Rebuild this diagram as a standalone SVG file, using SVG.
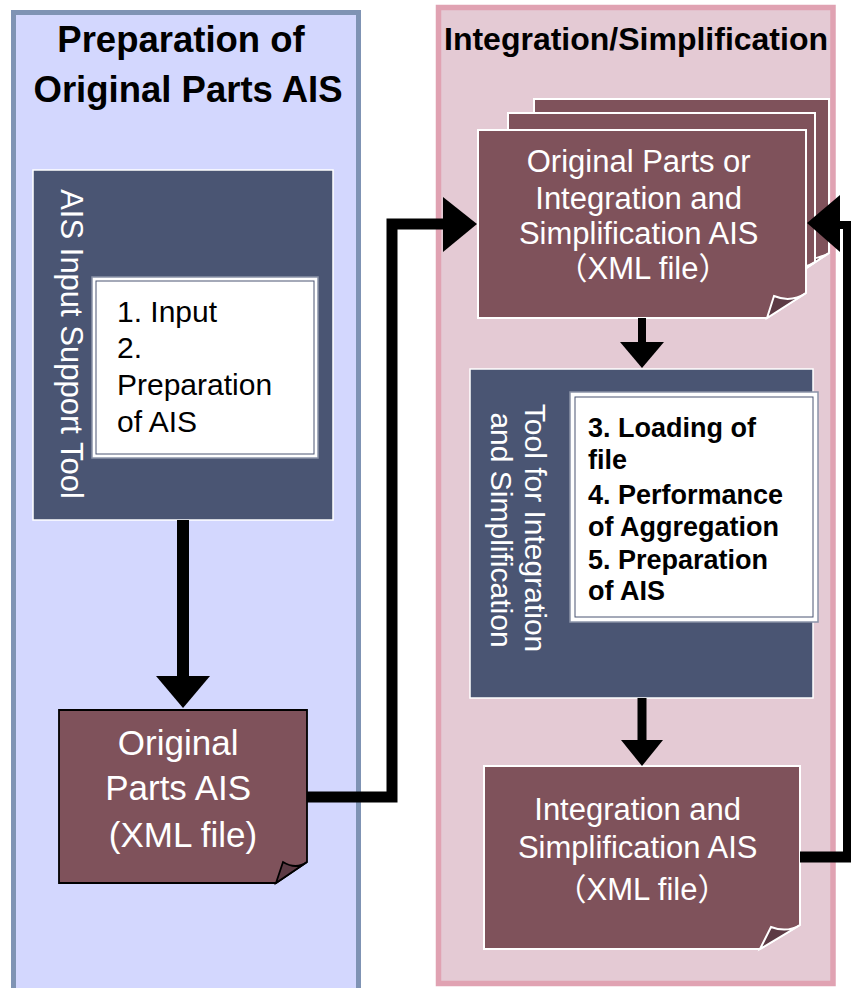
<svg xmlns="http://www.w3.org/2000/svg" width="852" height="988" viewBox="0 0 852 988">
<style>
.sans{font-family:"Liberation Sans",Arial,"Noto Sans CJK JP",sans-serif}
.head{font-weight:bold;fill:#000;text-anchor:middle}
.tool{fill:#4a5573;stroke:#ffffff;stroke-width:1.5}
.doc{fill:#7f525b;stroke:#ffffff;stroke-width:2}
.docb{fill:#7f525b;stroke:#000000;stroke-width:1.8}
.flap{fill:#5c3a44;stroke:#ffffff;stroke-width:2}
.flapb{fill:#5c3a44;stroke:#000000;stroke-width:1.8}
.wtxt{fill:#ffffff;text-anchor:middle}
.box{fill:#ffffff;stroke:#8a93a8;stroke-width:1.5}
.boxin{fill:none;stroke:#4a5573;stroke-width:1}
.ln{fill:none;stroke:#000000;stroke-linejoin:miter;stroke-linecap:butt}
</style>
<g id="panel-left">
<rect x="13.5" y="12.5" width="345" height="990" fill="#d3d7fe" stroke="#7f93b4" stroke-width="5"/>
<text class="sans head" font-size="36.5" x="181" y="52">Preparation of</text>
<text class="sans head" font-size="36.5" x="188" y="102">Original Parts AIS</text>
</g>
<g id="panel-right">
<rect x="438.5" y="7.5" width="394.5" height="976" fill="#e4cad4" stroke="#e0a2b2" stroke-width="5.5"/>
<text class="sans head" font-size="32" x="636" y="50">Integration/Simplification</text>
</g>
<g id="tool-input">
<rect class="tool" x="33" y="170" width="300" height="350"/>
<text class="sans" font-size="31" fill="#ffffff" text-anchor="middle" transform="translate(61,344) rotate(90)">AIS Input Support Tool</text>
<rect class="box" x="92" y="277" width="226" height="181"/>
<rect class="boxin" x="96" y="281" width="218" height="173"/>
<text class="sans" font-size="30" fill="#000">
<tspan x="117" y="322">1. Input</tspan>
<tspan x="117" y="358">2.</tspan>
<tspan x="117" y="395">Preparation</tspan>
<tspan x="117" y="432">of AIS</tspan>
</text>
</g>
<g id="doc-original">
<path class="docb" d="M59,710 H307 V862 L276,883 H59 Z"/>
<path class="flapb" d="M276,883 L283,862 Q296,870 307,862 Z"/>
<text class="sans wtxt" font-size="35">
<tspan x="183" y="755">Original</tspan>
<tspan x="183" y="800">Parts AIS</tspan>
<tspan x="183" y="847">(XML file)</tspan>
</text>
</g>
<g id="doc-stack">
<path class="doc" d="M534,99 H829 V253 L791,278 H534 Z"/>
<path class="flap" d="M791,278 L798,256 Q814,262 829,253 Z"/>
<path class="doc" d="M508,113 H815 V262 L777,287 H508 Z"/>
<path class="flap" d="M777,287 L784,265 Q800,271 815,262 Z"/>
<path class="doc" d="M478,130 H806 V293 L767,318 H478 Z"/>
<path class="flap" d="M767,318 L774,296 Q791,303 806,293 Z"/>
<text class="sans wtxt" font-size="31">
<tspan x="643" y="172">Original Parts or</tspan>
<tspan x="643" y="209">Integration and</tspan>
<tspan x="643" y="244">Simplification AIS</tspan>
<tspan x="643" y="279">（XML file）</tspan>
</text>
</g>
<g id="tool-integration">
<rect class="tool" x="470" y="369" width="343" height="329"/>
<text class="sans" font-size="30" fill="#ffffff" text-anchor="middle" transform="translate(525,528) rotate(90)">Tool for Integration</text>
<text class="sans" font-size="30" fill="#ffffff" text-anchor="middle" transform="translate(491,530) rotate(90)">and Simplification</text>
<rect class="box" x="570" y="392" width="248" height="230"/>
<rect class="boxin" x="575" y="397" width="238" height="220"/>
<text class="sans" font-size="27" font-weight="bold" fill="#000">
<tspan x="588" y="437">3. Loading of</tspan>
<tspan x="588" y="469">file</tspan>
<tspan x="588" y="504">4. Performance</tspan>
<tspan x="588" y="536">of Aggregation</tspan>
<tspan x="588" y="569">5. Preparation</tspan>
<tspan x="588" y="600">of AIS</tspan>
</text>
</g>
<g id="doc-result">
<path class="doc" d="M484,766 H800 V925 L760,949 H484 Z"/>
<path class="flap" d="M760,949 L771,927 Q787,933 800,925 Z"/>
<text class="sans wtxt" font-size="31">
<tspan x="642" y="820">Integration and</tspan>
<tspan x="642" y="858">Simplification AIS</tspan>
<tspan x="642" y="900">（XML file）</tspan>
</text>
</g>
<g id="connectors">
<line class="ln" x1="183" y1="520" x2="183" y2="678" stroke-width="12"/>
<polygon points="156,676 210,676 183,708" fill="#000"/>
<line class="ln" x1="642" y1="318" x2="642" y2="344" stroke-width="8"/>
<polygon points="620,342 664,342 642,368" fill="#000"/>
<line class="ln" x1="642" y1="698" x2="642" y2="742" stroke-width="9"/>
<polygon points="621,740 663,740 642,766" fill="#000"/>
<polyline class="ln" points="307,797 392,797 392,224 445,224" stroke-width="11"/>
<polygon points="443,197 443,252 477,224" fill="#000"/>
<line class="ln" x1="800" y1="857" x2="851" y2="857" stroke-width="11"/>
<polyline class="ln" points="847,861 847,225 838,225" stroke-width="8"/>
<polygon points="840,195 840,252 807,223" fill="#000"/>
</g>
</svg>
